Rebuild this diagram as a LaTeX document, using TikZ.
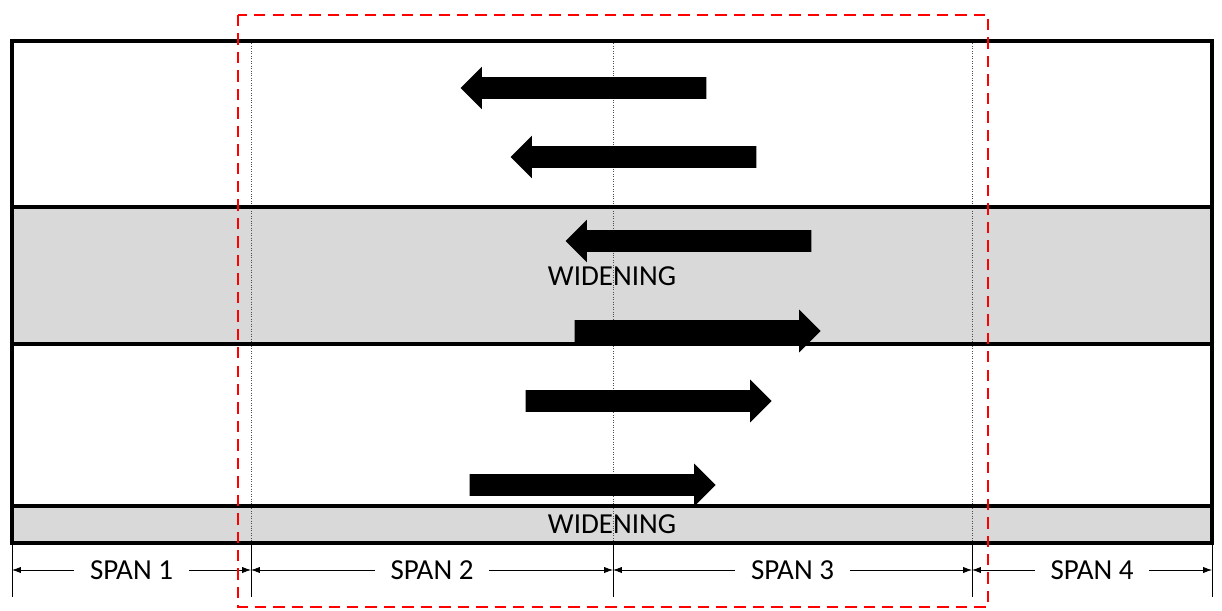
\documentclass[tikz,border=0pt]{standalone}
\usepackage{fontspec}
\setmainfont{Carlito}
\usetikzlibrary{arrows.meta,shapes.arrows}
\tikzset{
  lanearrow/.style={single arrow, fill=black, inner xsep=0pt, inner ysep=0.21cm,
    minimum height=4.92cm, minimum width=0.84cm, single arrow head extend=0.21cm, anchor=tip},
  dimline/.style={{Latex[length=5pt,width=3.5pt]}-{Latex[length=5pt,width=3.5pt]}, thin},
  spanlabel/.style={fill=white, inner xsep=0.32cm, font=\fontsize{16.5}{20}\selectfont},
  lanelabel/.style={font=\fontsize{16.5}{20}\selectfont}
}
\begin{document}
\begin{tikzpicture}[x=0.02cm,y=-0.02cm]
	\useasboundingbox (0,0) rectangle (1222,611);
	\fill[gray!30] (12,207) rectangle (1212,344);
	\fill[gray!30] (12,506) rectangle (1212,543);
	\foreach \x in {251,613,972}
		\draw[densely dotted,gray!60!black,thin] (\x,41) -- (\x,543);
	\foreach \x in {12,251,613,972,1212}
		\draw[thin] (\x,543) -- (\x,597);
	\draw[line width=2pt] (12,41) rectangle (1212,543);
	\draw[line width=2pt] (12,207) -- (1212,207);
	\draw[line width=2pt] (12,344) -- (1212,344);
	\draw[line width=2pt] (12,506) -- (1212,506);

	\node[lanearrow,shape border rotate=180] (w1) at (460,88) {};
	\node[lanearrow,shape border rotate=180] (w2) at (510,157) {};
	\node[lanearrow,shape border rotate=180] (w3) at (565,241) {};
	\node[lanearrow] (e1) at (821,331) {};
	\node[lanearrow] (e2) at (772,401) {};
	\node[lanearrow] (e3) at (716,485) {};

	\node[lanelabel] (wide1) at (612,276) {WIDENING};
	\node[lanelabel] (wide2) at (612,524) {WIDENING};

	\coordinate (p0) at (12,570);
	\coordinate (p1) at (251,570);
	\coordinate (p2) at (613,570);
	\coordinate (p3) at (972,570);
	\coordinate (p4) at (1212,570);
	\draw[dimline] (p0) -- (p1) node[midway,spanlabel] (span1) {SPAN 1};
	\draw[dimline] (p1) -- (p2) node[midway,spanlabel] (span2) {SPAN 2};
	\draw[dimline] (p2) -- (p3) node[midway,spanlabel] (span3) {SPAN 3};
	\draw[dimline] (p3) -- (p4) node[midway,spanlabel] (span4) {SPAN 4};

	\draw[red,line width=1.4pt,dash pattern=on 6.5pt off 4pt] (238,15) rectangle (988,607);
\end{tikzpicture}
\end{document}
